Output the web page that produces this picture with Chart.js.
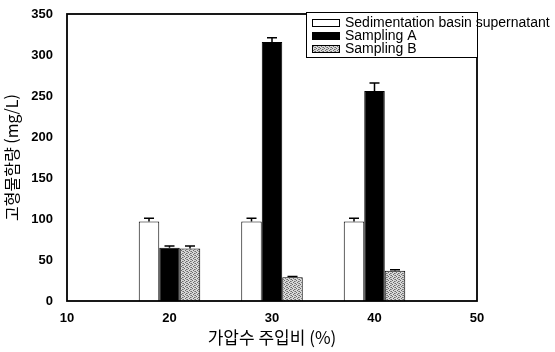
<!DOCTYPE html>
<html lang="ko">
<head>
    <meta charset="UTF-8">
    <title>고형물함량</title>
    <script src="https://cdn.jsdelivr.net/npm/chart.js@4.4.0/dist/chart.umd.min.js"></script>
    <style>
        body { margin: 0; padding: 0; background: #fff; }
        #wrap { width: 555px; height: 352px; position: relative; }
    </style>
</head>
<body>
    <div id="wrap"><canvas id="solidsChart"></canvas></div>

    <script>
        // data
        const ratios = [20, 30, 40];                 // 가압수 주입비 (%)
        const supernatant = [97, 97, 97];
        const supernatantErr = [4, 4, 4];
        const samplingA = [65, 316, 256];
        const samplingAErr = [2, 5, 10];
        const samplingB = [64, 29, 37];
        const samplingBErr = [3, 1, 1];
        const xTicks = [10, 20, 30, 40, 50];
        const yTicks = [0, 50, 100, 150, 200, 250, 300, 350];

        const tickFont = { family: 'Liberation Sans, Arial, sans-serif', size: 13, weight: 'bold' };
        const krFont = "'Noto Sans CJK KR', sans-serif";

        // dotted grey fill for Sampling B
        function makeDots() {
            const c = document.createElement('canvas');
            c.width = 4; c.height = 4;
            const g = c.getContext('2d');
            g.fillStyle = '#d8d8d8';
            g.fillRect(0, 0, 4, 4);
            g.fillStyle = '#6a6a6a';
            g.fillRect(0, 0, 1, 1);
            g.fillRect(2, 1, 1, 1);
            g.fillRect(1, 2, 1, 1);
            g.fillRect(3, 3, 1, 1);
            g.fillStyle = '#9a9a9a';
            g.fillRect(2, 3, 1, 1);
            g.fillRect(3, 1, 1, 1);
            return g.createPattern(c, 'repeat');
        }
        const dots = makeDots();

        const toPoints = vals => vals.map((v, i) => ({ x: ratios[i], y: v }));

        const errs = [supernatantErr, samplingAErr, samplingBErr];

        // error bars with top cap, frame, legend
        const decor = {
            id: 'decor',
            afterDatasetsDraw(chart) {
                const ctx = chart.ctx;
                const ys = chart.scales.y;
                ctx.save();
                ctx.strokeStyle = '#000';
                ctx.lineWidth = 1.5;
                chart.data.datasets.forEach((ds, di) => {
                    const meta = chart.getDatasetMeta(di);
                    meta.data.forEach((bar, i) => {
                        const v = ds.data[i].y;
                        const top = ys.getPixelForValue(v + errs[di][i]);
                        const y0 = ys.getPixelForValue(v);
                        ctx.beginPath();
                        ctx.moveTo(bar.x, y0);
                        ctx.lineTo(bar.x, top);
                        ctx.moveTo(bar.x - 5, top);
                        ctx.lineTo(bar.x + 5, top);
                        ctx.stroke();
                    });
                });
                const a = chart.chartArea;
                ctx.lineWidth = 1.8;
                ctx.strokeRect(a.left, a.top, a.right - a.left, a.bottom - a.top);

                // legend box
                const lx = 306, ly = a.top - 2, lw = a.right - lx, lh = 45;
                ctx.fillStyle = '#fff';
                ctx.fillRect(lx, ly, lw, lh);
                ctx.lineWidth = 1;
                ctx.strokeRect(lx + 0.5, ly + 0.5, lw, lh);
                const labels = ['Sedimentation basin supernatant', 'Sampling A', 'Sampling B'];
                const fills = ['#fff', '#000', dots];
                ctx.font = '14px "Liberation Sans", Arial, sans-serif';
                ctx.textBaseline = 'middle';
                labels.forEach((t, k) => {
                    const yy = ly + 11 + k * 13;
                    ctx.fillStyle = fills[k];
                    ctx.fillRect(312, yy - 4, 28, 8);
                    ctx.strokeStyle = '#000';
                    ctx.strokeRect(312.5, yy - 3.5, 27, 7);
                    ctx.fillStyle = '#000';
                    ctx.fillText(t, 345, yy);
                });
                ctx.restore();
            }
        };

        const ctx = document.getElementById('solidsChart').getContext('2d');
        new Chart(ctx, {
            type: 'bar',
            data: {
                datasets: [
                    { label: 'Sedimentation basin supernatant', data: toPoints(supernatant),
                      backgroundColor: '#fff', borderColor: '#000', borderWidth: 1 },
                    { label: 'Sampling A', data: toPoints(samplingA),
                      backgroundColor: '#000', borderColor: '#000', borderWidth: 1 },
                    { label: 'Sampling B', data: toPoints(samplingB),
                      backgroundColor: dots, borderColor: '#000', borderWidth: 1 }
                ]
            },
            options: {
                responsive: true,
                maintainAspectRatio: false,
                animation: false,
                categoryPercentage: 0.6,
                barPercentage: 1.0,
                layout: { padding: { top: 14, right: 78, left: 0, bottom: 0 } },
                plugins: { legend: { display: false }, tooltip: { enabled: false } },
                scales: {
                    x: {
                        type: 'linear',
                        offset: false,
                        min: 10, max: 50,
                        afterBuildTicks: s => { s.ticks = xTicks.map(v => ({ value: v })); },
                        afterFit: s => { s.height = 51; },
                        grid: { display: false, offset: false },
                        border: { display: false },
                        ticks: { color: '#000', font: tickFont, padding: 2 },
                        title: {
                            display: true, text: '가압수 주입비 (%)', color: '#000',
                            font: { family: krFont, size: 17 }, padding: { top: 4 }
                        }
                    },
                    y: {
                        min: 0, max: 350,
                        afterBuildTicks: s => { s.ticks = yTicks.map(v => ({ value: v })); },
                        afterFit: s => { s.width = 67; },
                        grid: { display: false },
                        border: { display: false },
                        ticks: { color: '#000', font: tickFont, padding: 6 },
                        title: {
                            display: true, text: '고형물함량 (mg/L)', color: '#000',
                            font: { family: krFont, size: 16 }, padding: { top: 2, bottom: 0 }
                        }
                    }
                }
            },
            plugins: [decor]
        });
    </script>
</body>
</html>
